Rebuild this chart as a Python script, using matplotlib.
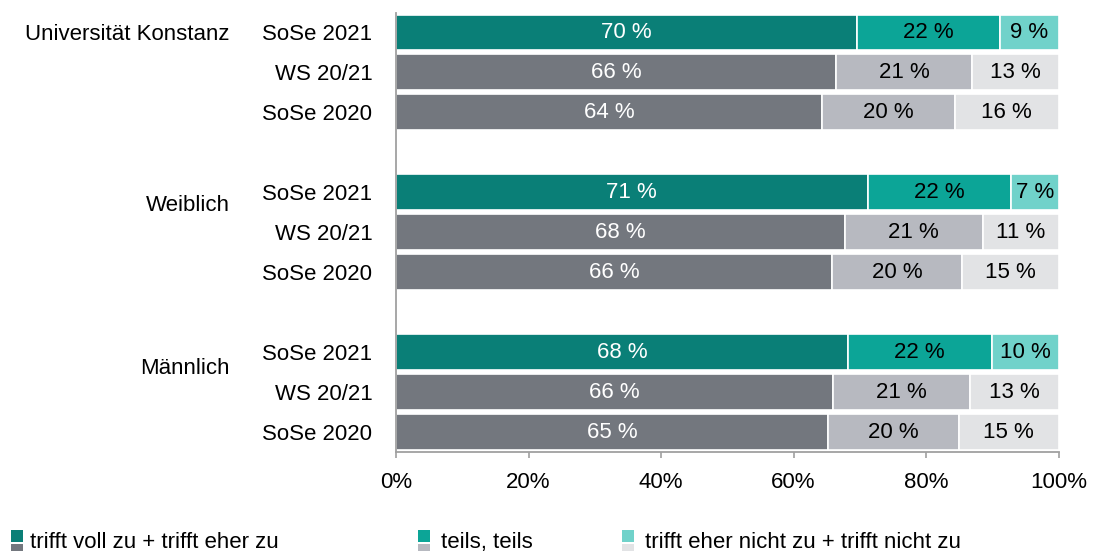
import matplotlib
matplotlib.use("Agg")
import matplotlib.pyplot as plt
from matplotlib.patches import Rectangle
from matplotlib.transforms import blended_transform_factory

plt.rcParams["font.family"] = ["Liberation Sans", "DejaVu Sans"]

# --- data -------------------------------------------------------------
groups = ["Universität Konstanz", "Weiblich", "Männlich"]
periods = ["SoSe 2021", "WS 20/21", "SoSe 2020"]
categories = ["trifft voll zu + trifft eher zu", "teils, teils",
              "trifft eher nicht zu + trifft nicht zu"]

# shares in percent, one entry per (group, period), ordered as above
agree = [69.6, 66.4, 64.3, 71.2, 67.7, 65.8, 68.2, 66.0, 65.2]
partly = [21.6, 20.6, 20.1, 21.6, 20.9, 19.6, 21.7, 20.6, 19.8]
disagree = [8.8, 13.0, 15.6, 7.2, 11.4, 14.6, 10.1, 13.4, 15.0]

xticks = [0, 20, 40, 60, 80, 100]
xticklabels = ["0%", "20%", "40%", "60%", "80%", "100%"]

# --- styling ----------------------------------------------------------
teal = ["#0a7f77", "#0ca597", "#70d2ca"]     # current semester
grey = ["#73777e", "#b7b9c0", "#e2e3e5"]     # earlier semesters
label_colors = ["white", "black", "black"]
FS = 16

fig = plt.figure(figsize=(11, 5.51), dpi=100)
ax = fig.add_axes([0.36, 0.1797, 0.6023, 0.7976])

series = [agree, partly, disagree]
ypos = []
ylabels = []
for g in range(len(groups)):
    for p in range(len(periods)):
        ypos.append(g * 4 + p)
        ylabels.append(periods[p])

for i, y in enumerate(ypos):
    palette = teal if ylabels[i] == "SoSe 2021" else grey
    left = 0.0
    for k, s in enumerate(series):
        v = s[i]
        ax.barh(y, v, left=left, height=0.9, color=palette[k],
                edgecolor="white", linewidth=1.2)
        ax.text(left + v / 2, y, f"{v:.0f} %", ha="center", va="center",
                color=label_colors[k], fontsize=FS)
        left += v

ax.set_xlim(0, 100)
ax.set_ylim(10.5, -0.5)
ax.set_xticks(xticks)
ax.set_xticklabels(xticklabels, fontsize=FS)
ax.set_yticks(ypos)
ax.set_yticklabels(ylabels, fontsize=FS)
ax.tick_params(axis="y", length=0, pad=17)
ax.tick_params(axis="x", length=4.5, width=1.2, color="#a0a0a0", pad=10,
               direction="out")
for side in ("top", "right"):
    ax.spines[side].set_visible(False)
for side in ("left", "bottom"):
    ax.spines[side].set_color("#a0a0a0")
    ax.spines[side].set_linewidth(1.3)

# group names to the left of the period labels
trans = blended_transform_factory(ax.transAxes, ax.transData)
group_y = [0.05, 4.33, 8.4]
for name, gy in zip(groups, group_y):
    ax.text(-0.2506, gy, name, transform=trans, ha="right", va="center",
            fontsize=FS)

# legend: each entry shows the teal and the grey shade stacked
W, H = 1100.0, 551.0
marker_x = [11, 418, 622]
text_x = [30, 441, 645]
for k, cat in enumerate(categories):
    for col, top in ((teal[k], 530), (grey[k], 544)):
        fig.patches.append(Rectangle((marker_x[k] / W, 1 - (top + 12) / H),
                                     12 / W, 12 / H, transform=fig.transFigure,
                                     facecolor=col, edgecolor="none"))
    fig.text(text_x[k] / W, (H - 548) / H, cat, ha="left", va="baseline",
             fontsize=FS)

fig.savefig("out.png", dpi=100)
